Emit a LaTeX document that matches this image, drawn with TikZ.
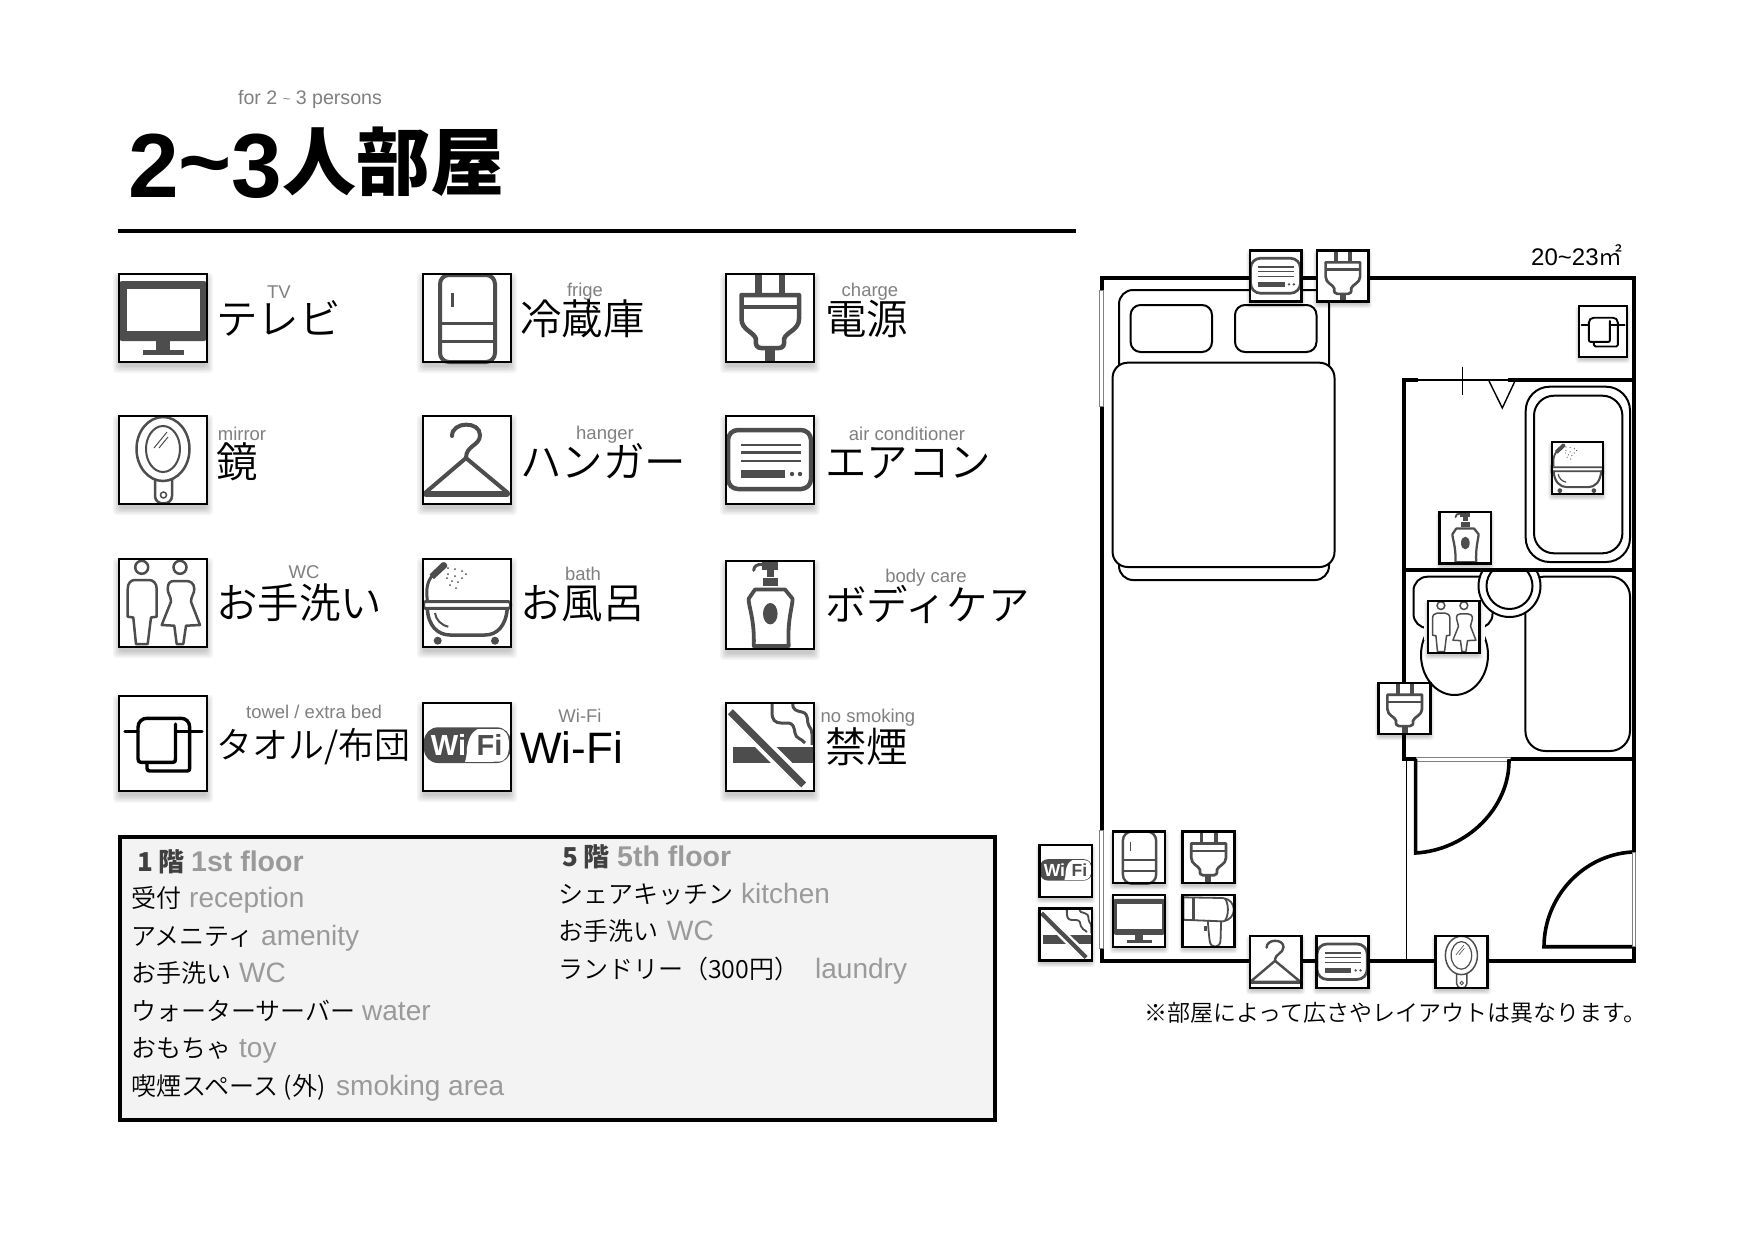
\documentclass[tikz,border=0pt]{standalone}
\usepackage{fontspec}
\setmainfont{Liberation Sans}
\newfontfamily\jp{Noto Sans CJK JP DemiLight}
\newfontfamily\jpb{Noto Sans CJK JP}
\newcommand\fs[1]{\fontsize{#1pt}{#1pt}\selectfont}
\definecolor{icongray}{HTML}{4D4D4D}
\definecolor{lblgray}{HTML}{808080}
\definecolor{flrgray}{HTML}{9A9A9A}
\definecolor{boxfill}{HTML}{F3F3F3}
\tikzset{
  lbl/.style={inner sep=0,font=\fs{18.5},text=lblgray,anchor=center},
  biglbl/.style={inner sep=0,anchor=base west,font=\jp\fs{41.5}},
  jptext/.style={inner sep=0,anchor=base west,font=\jp\fs{25}},
  entext/.style={inner sep=0,anchor=base west,font=\fs{28},text=flrgray},
  wall/.style={line width=4pt,line cap=rect},
  furn/.style={line width=2pt,draw=black,fill=white},
  gl/.style={draw=icongray,line width=\ils*#1pt}
}
\newcommand\icon[5]{%
 \pgfmathsetmacro\ils{(#3+#4)/180}%
 \pgfmathsetmacro\ins{1.2/\ils}%
 \begin{scope}[shift={(#1,#2)},xscale=#3/90,yscale=#4/90]
  \foreach \d in {6,4.5,3,1.5,0}{\fill[black,opacity=.045,rounded corners=3pt] (\ins-\d,\ins-\d+5) rectangle (90-\ins+\d,90-\ins+\d+5);}
  \fill[white] (0,0) rectangle (90,90);
  #5
  \draw[black,line width=2.4pt] (\ins,\ins) rectangle (90-\ins,90-\ins);
 \end{scope}}
\newcommand\icTV{%
 \fill[icongray,rounded corners=3pt] (1,8) rectangle (89,68);
 \fill[white] (9,16) rectangle (82,58);
 \fill[icongray] (38,68) rectangle (52,78);
 \fill[icongray] (25,77) rectangle (66,82);}
\newcommand\icFridge{%
 \draw[gl=4,rounded corners=9pt] (18,2) rectangle (73,89);
 \draw[gl=3] (30.5,20) -- (30.5,34);
 \draw[gl=3] (18,50) -- (73,50);
 \draw[gl=3] (18,68) -- (73,68);}
\newcommand\icPlug{%
 \draw[gl=6.5] (33.5,1) -- (33.5,22);
 \draw[gl=6.5] (57,1) -- (57,22);
 \draw[gl=4.5,line join=round] (16.5,22) -- (74,22) -- (74,46) .. controls (74,57) and (61,59) .. (59,66) .. controls (60,72) and (58,75) .. (54,75) -- (36,75) .. controls (32,75) and (30,72) .. (31,66) .. controls (29,59) and (16.5,57) .. (16.5,46) -- cycle;
 \draw[gl=4] (16.5,34) -- (74,34);
 \draw[gl=10] (45,76) -- (45,90);}
\newcommand\icMirror{%
 \draw[gl=2.5,fill=white,rounded corners=0pt] (37,62) -- (37,81) .. controls (37,91) and (54,91) .. (54,81) -- (54,62);
 \draw[gl=2.5,fill=white] (45,34) ellipse [x radius=26.5,y radius=32];
 \draw[gl=2] (45,34) ellipse [x radius=17,y radius=23];
 \draw[gl=1] (36,33) -- (49,17);
 \draw[gl=1] (41,33) -- (50,22);
 \draw[gl=1.5] (45.5,80) circle [radius=3];}
\newcommand\icHanger{%
 \draw[gl=4,line cap=round] (30,21) .. controls (30,6) and (58,6) .. (58,20) .. controls (58,31) and (44,30) .. (44,43);
 \draw[gl=4,line join=round] (44,43) -- (3,78) -- (86,78) -- cycle;
 \draw[gl=6,line cap=round] (4,79) -- (85,79);}
\newcommand\icAC{%
 \draw[gl=4.5,rounded corners=10pt] (3,15) rectangle (86,74);
 \draw[gl=2.5] (16,30) -- (76,30);
 \draw[gl=2.5] (16,37.5) -- (76,37.5);
 \draw[gl=2.5] (16,46) -- (76,46);
 \fill[icongray] (16,55) rectangle (60,63);
 \fill[icongray] (67,59) circle [radius=2.2];
 \fill[icongray] (75,59) circle [radius=2.2];}
\newcommand\icWC{%
 \draw[gl=2.5] (23.7,9.3) circle [radius=6.5];
 \draw[gl=2.5] (62,9.3) circle [radius=6.5];
 \draw[gl=2.5,line join=round] (9.7,31) .. controls (9.7,25) and (13,22) .. (17,22) -- (31,22) .. controls (35,22) and (38.7,25) .. (38.7,31) -- (38.7,58.7) -- (33,59.5) -- (29.7,86) -- (18,86) -- (15.3,59.5) -- (9.7,58.7) -- cycle;
 \draw[gl=2.5,line join=round] (56.3,23) -- (68,23) .. controls (72,23) and (76.3,25) .. (76.3,31) .. controls (76.3,36) and (73,38) .. (73,43.7) -- (82,67) -- (68,67.7) -- (65.3,86) -- (58.7,86) -- (56.3,67.7) -- (43.7,67) -- (53,43.7) .. controls (53,38) and (49.7,36) .. (49.7,31) .. controls (49.7,25) and (52,23) .. (56.3,23) -- cycle;}
\newcommand\icBath{%
 \draw[gl=3.5] (5.3,50) .. controls (6,68) and (16,77) .. (28,77) -- (63,77) .. controls (75,77) and (84,68) .. (85.3,50);
 \draw[gl=3,rounded corners=2pt,fill=white] (1.5,43.7) rectangle (88.5,50.3);
 \draw[gl=2] (13,55) .. controls (14,62) and (19,67) .. (26.3,68.7);
 \fill[icongray] (15.7,82.7) circle [radius=4];
 \fill[icongray] (73,82.7) circle [radius=4];
 \draw[gl=3] (5.3,42) .. controls (4,32) and (5,24) .. (10,18);
 \fill[icongray] (7.5,16.5) -- (20,4.5) .. controls (23,3) and (26,6) .. (25,9) -- (12,21) -- cycle;
 \foreach \p in {(26,10),(33,11),(40,13),(44,16),(26,16),(33,18),(40,20),(25,20),(30,23),(36,24),(28,27),(34,30)}{\fill[icongray] \p circle [radius=1];}}
\newcommand\icBody{%
 \fill[icongray] (37,1) rectangle (53,10);
 \draw[gl=3,line cap=round] (28.7,10.3) .. controls (29,6) and (32,4.3) .. (37,4.3);
 \fill[icongray] (42,10) rectangle (49,17);
 \fill[icongray] (38,18) rectangle (53,26);
 \draw[gl=3.8,line join=round] (30,29.5) -- (60,29.5) -- (67.5,38.7) .. controls (68,45) and (62,60) .. (63.7,86) -- (28.7,86) .. controls (30,60) and (23,45) .. (23.7,38.7) -- cycle;
 \fill[icongray] (45.3,53.7) ellipse [x radius=7.3,y radius=10.7];}
\newcommand\icTowel{%
 \draw[black,line width=\ils*3pt,line cap=round] (7,33.7) -- (20,33.7);
 \draw[black,line width=\ils*3pt,line cap=round] (58,33.7) -- (84,33.7);
 \draw[black,line width=\ils*3.3pt,line cap=round,line join=round] (29,62.5) -- (29,68) .. controls (29,70) and (30,70.5) .. (32,70.5) -- (69,70.5) .. controls (71,70.5) and (71.7,70) .. (71.7,68) -- (71.7,30) .. controls (71.7,25) and (68,21.6) .. (63,21.6) -- (29,21.6) .. controls (24,21.6) and (20,25) .. (20,30) -- (20,59) .. controls (20,61.5) and (21,62.5) .. (23,62.5) -- (55,62.5) .. controls (57,62.5) and (57.5,61.5) .. (57.5,59) -- (57.5,27);}
\newcommand\icWifi{%
 \fill[icongray,rounded corners=\ils*14pt] (2,25.3) rectangle (88.7,61);
 \fill[white] (56,27) .. controls (49,30) and (46,38) .. (45,46) .. controls (45,52) and (44,57) .. (43,60) -- (76,59.7) .. controls (84,59.7) and (87,53) .. (87,43) .. controls (87,33) and (84,27) .. (76,27) -- cycle;
 \node[inner sep=0,scale=\ils,font=\bfseries\fs{29},text=white] (wi) at (26.5,43) {Wi};
 \node[inner sep=0,scale=\ils,font=\bfseries\fs{29},text=icongray] (fi) at (67.5,43) {Fi};}
\newcommand\icNoSmoke{%
 \fill[icongray] (8,45) rectangle (89,61);
 \draw[white,line width=\ils*15pt] (5.3,9.7) -- (78.7,83);
 \draw[gl=7] (5.3,9.7) -- (78.7,83);
 \draw[gl=3] (47,1.3) -- (47,10) .. controls (47,18) and (50,21) .. (56,21) -- (62,21) .. controls (69,21) and (69,26) .. (70,31) .. controls (71,37) and (76,36) .. (80,41);
 \draw[gl=3] (68,1.3) .. controls (67,8) and (72,9) .. (77,10) .. controls (85,12) and (81,20) .. (84,24) .. controls (88,28) and (87,35) .. (87,43);}
\newcommand\icDryer{%
 \draw[gl=3] (3.4,5.5) -- (69,6.7) .. controls (80,8) and (87,16) .. (87,26) .. controls (87,36) and (80,44) .. (69,45.6) -- (3.4,43) -- cycle;
 \draw[gl=5] (20,6) -- (20,43);
 \draw[gl=3] (72,7) .. controls (79,16) and (79,36) .. (72,45);
 \draw[gl=3] (44,45) .. controls (45,60) and (46,70) .. (47,78) .. controls (48,91) and (64,91) .. (65,78) -- (66,45);
 \fill[icongray] (37,53) rectangle (42,62);}
\begin{document}
\begin{tikzpicture}[x=1pt,y=-1pt]
\useasboundingbox (0,0) rectangle (1754,1239);
\fill[white] (0,0) rectangle (1754,1239);
% heading
\node[lbl,font=\fs{19.6}] (sub) at (310,99) {for 2 \raisebox{1pt}{\fs{13}\textasciitilde} 3 persons};
\node[inner sep=0,anchor=base west,font=\bfseries\fs{91}] (ttla) at (128,197) {2\raisebox{4pt}{\textasciitilde}3};
\node[inner sep=0,anchor=base west,font=\jpb\bfseries\fs{74}] (ttlb) at (282,189) {人部屋};
\draw[line width=4pt] (118,231) -- (1076,231);
% legend icons
\icon{118}{273}{90}{90}{\icTV}
\icon{422}{273}{90}{90}{\icFridge}
\icon{725}{273}{90}{90}{\icPlug}
\icon{118}{415}{90}{90}{\icMirror}
\icon{422}{415}{90}{90}{\icHanger}
\icon{725}{415}{90}{90}{\icAC}
\icon{118}{558}{90}{90}{\icWC}
\icon{422}{558}{90}{90}{\icBath}
\icon{725}{560}{90}{90}{\icBody}
\icon{118}{695}{90}{97}{\icTowel}
\icon{422}{702}{90}{90}{\icWifi}
\icon{725}{702}{90}{90}{\icNoSmoke}
% legend labels
\node[lbl] (l1) at (279,292) {TV};
\node[lbl] (l2) at (585,292) {frige};
\node[lbl] (l3) at (870,292) {charge};
\node[lbl] (l4) at (242,434) {mirror};
\node[lbl] (l5) at (605,435) {hanger};
\node[lbl] (l6) at (907,434) {air conditioner};
\node[lbl] (l7) at (304,572) {WC};
\node[lbl] (l8) at (583,574) {bath};
\node[lbl] (l9) at (926,578) {body care};
\node[lbl] (l10) at (314,712) {towel / extra bed};
\node[lbl] (l11) at (580,716) {Wi-Fi};
\node[lbl] (l12) at (868,718) {no smoking};
\node[biglbl] (b1) at (216,334) {テレビ};
\node[biglbl] (b2) at (520,334) {冷蔵庫};
\node[biglbl] (b3) at (825,334) {電源};
\node[biglbl] (b4) at (216,477) {鏡};
\node[biglbl] (b5) at (520,477) {ハンガー};
\node[biglbl] (b6) at (825,477) {エアコン};
\node[biglbl] (b7) at (216,618) {お手洗い};
\node[biglbl] (b8) at (520,618) {お風呂};
\node[biglbl] (b9) at (825,620) {ボディケア};
\node[inner sep=0,anchor=base west,font=\jp\fs{36}] (b10) at (216,758) {タオル/布団};
\node[inner sep=0,anchor=base west,font=\fs{44}] (b11) at (520,763) {Wi-Fi};
\node[biglbl] (b12) at (825,762) {禁煙};
% floor box
\draw[black,fill=boxfill,line width=4pt] (120,837) rectangle (995,1120);
\node[inner sep=0,anchor=base west,font=\jpb\bfseries\fs{26},text=black!75] (f1) at (137,871) {1 階};
\node[inner sep=0,anchor=base west,font=\bfseries\fs{28.5},text=flrgray] (f2) at (191,871) {1st floor};
\node[jptext] (a1) at (131,907) {受付};
\node[entext] (a2) at (189,907) {reception};
\node[jptext] (a3) at (131,945) {アメニティ};
\node[entext] (a4) at (261,945) {amenity};
\node[jptext] (a5) at (131,982) {お手洗い};
\node[entext] (a6) at (239,982) {WC};
\node[jptext] (a7) at (131,1020) {ウォーターサーバー};
\node[entext] (a8) at (362,1020) {water};
\node[jptext] (a9) at (131,1057) {おもちゃ};
\node[entext] (a10) at (239,1057) {toy};
\node[jptext] (a11) at (131,1095) {喫煙スペース (外)};
\node[entext] (a12) at (336,1095) {smoking area};
\node[inner sep=0,anchor=base west,font=\jpb\bfseries\fs{26},text=black!75] (g1) at (562,866) {5 階};
\node[inner sep=0,anchor=base west,font=\bfseries\fs{28.5},text=flrgray] (g2) at (617,866) {5th floor};
\node[jptext] (c1) at (558,903) {シェアキッチン};
\node[entext] (c2) at (741,903) {kitchen};
\node[jptext] (c3) at (558,940) {お手洗い};
\node[entext] (c4) at (667,940) {WC};
\node[jptext] (c5) at (558,978) {ランドリー（300円）};
\node[entext] (c6) at (815,978) {laundry};
% plan: furniture
\draw[furn] (1119,290) [rounded corners=14pt] rectangle (1329,580);
\draw[furn] (1130.6,305) [rounded corners=10pt] rectangle (1212,352);
\draw[furn] (1235,305) [rounded corners=10pt] rectangle (1316.5,352);
\draw[furn] (1112.6,362.7) [rounded corners=15pt] rectangle (1334.5,567);
\draw[furn] (1525.7,386.7) [rounded corners=24pt] rectangle (1630,562);
\draw[furn] (1534,395.7) [rounded corners=20pt] rectangle (1622.4,553.3);
\draw[furn] (1525.4,576.5) [rounded corners=20pt] rectangle (1630,751);
\draw[furn] (1413.5,576.7) [rounded corners=14pt] rectangle (1492.5,628);
\draw[furn] (1454.5,655) ellipse [x radius=33.5,y radius=40];
\fill[white] (1424,622) rectangle (1485,640);
\begin{scope}
 \clip (1470,571) rectangle (1550,625);
 \draw[furn] (1509.5,586) circle [radius=31];
 \draw[furn] (1509.5,586) circle [radius=23];
\end{scope}
% plan: walls
\draw[wall] (1101.5,278) -- (1633.8,278) -- (1633.8,961) -- (1101.5,961) -- cycle;
\draw[wall] (1404,380) -- (1404,758);
\draw[wall] (1404,380) -- (1416,380);
\draw[wall] (1510,380) -- (1633,380);
\draw[line width=1.2pt] (1416,380) -- (1510,380);
\draw[line width=1.4pt] (1462.5,366.7) -- (1462.5,395);
\draw[line width=1.4pt,line join=miter] (1489,381) -- (1502.3,408) -- (1515,381);
\draw[wall] (1404,570.3) -- (1633,570.3);
\draw[wall] (1404,759.3) -- (1634,759.3);
\draw[black!50,fill=white,line width=.6pt] (1416,757.5) rectangle (1510,761);
\draw[line width=1.2pt] (1406.5,761) -- (1406.5,963);
% plan: windows and doors
\draw[black!50,fill=white,line width=.7pt] (1099.5,290) rectangle (1103.5,406.7);
\draw[black!50,fill=white,line width=.7pt] (1099.5,830) rectangle (1103.5,948);
\draw[line width=3.6pt,line cap=rect] (1415.6,761) -- (1415.6,853) .. controls (1467,850) and (1509,808) .. (1509,761);
\draw[line width=3.6pt,line cap=rect] (1632,946.7) -- (1544,946.7) .. controls (1544,898) and (1582,855) .. (1632,852);
\draw[black!50,fill=white,line width=.6pt] (1631.8,852) rectangle (1635,946);
% plan icons
\icon{1248.8}{249.3}{54}{53.5}{\icAC}
\icon{1315.7}{249.3}{54}{53.5}{\icPlug}
\icon{1577.6}{305}{50.5}{53}{\icTowel}
\icon{1550.5}{441}{53.5}{54}{\icBath}
\icon{1438.4}{511}{53.5}{53.7}{\icBody}
\icon{1426.7}{600}{54}{54}{\icWC}
\icon{1377.4}{681.7}{54.3}{53.3}{\icPlug}
\icon{1038.3}{844}{54.7}{54}{\icWifi}
\icon{1038.3}{907.3}{54.7}{54.4}{\icNoSmoke}
\icon{1112}{830.3}{54.4}{54}{\icFridge}
\icon{1181.3}{830.3}{54.3}{54}{\icPlug}
\icon{1112}{894}{54.4}{54}{\icTV}
\icon{1181.3}{894}{54.3}{54}{\icDryer}
\icon{1248.5}{935}{54.3}{54}{\icHanger}
\icon{1315.2}{935}{54.4}{54}{\icAC}
\icon{1434.2}{935}{54.4}{54}{\icMirror}
% plan texts
\node[inner sep=0,anchor=base west,font=\fs{24}] (area) at (1531,265) {20\textasciitilde 23{\jp ㎡}};
\node[inner sep=0,anchor=base west,font=\jp\fs{23}] (note) at (1144,1021) {※部屋によって広さやレイアウトは異なります。};
\end{tikzpicture}
\end{document}
